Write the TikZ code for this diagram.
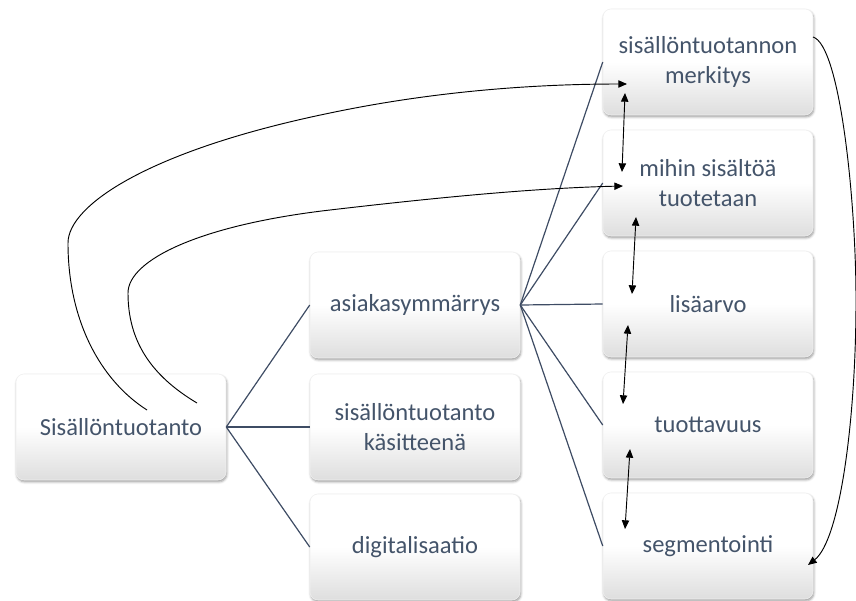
\documentclass[tikz,border=0pt]{standalone}
\usepackage{fontspec}
\setmainfont{Carlito}
\usetikzlibrary{arrows.meta,shadows.blur}
\definecolor{tekstisini}{RGB}{68,84,106}
\definecolor{viivasini}{RGB}{62,76,100}

\tikzset{
  laatikko/.style={rounded corners=6pt, draw=black!6, line width=0.4pt,
    top color=white, bottom color=black!13, middle color=white,
    blur shadow={shadow xshift=0.6pt, shadow yshift=-1.4pt, shadow blur radius=1.8pt, shadow opacity=40},
    minimum width=157.5pt, minimum height=79.5pt, inner sep=0pt,
    text=tekstisini, align=center, font=\fontsize{18.4}{22.5}\selectfont},
  yhteys/.style={draw=viivasini, line width=0.9pt},
  nuoli/.style={draw=black, line width=0.7pt, -{Triangle[length=6.5pt,width=5.5pt]}},
  kaksoisnuoli/.style={draw=black, line width=0.7pt, {Triangle[length=6.5pt,width=5.5pt]}-{Triangle[length=6.5pt,width=5.5pt]}}
}

\begin{document}
\begin{tikzpicture}[x=0.75pt, y=-0.75pt]
		\useasboundingbox (0,0) rectangle (856,600);
		
		% Laatikko vasemmalla
		\node[laatikko] (sisalto) at (121,427) {Sisällöntuotanto};
		
		% Keskimmäinen sarake
		\node[laatikko] (asiakas) at (415,305) {asiakasymmärrys};
		\node[laatikko] (kasite) at (415,427) {sisällöntuotanto\\käsitteenä};
		\node[laatikko] (digi) at (415,547) {digitalisaatio};
		
		% Oikea sarake
		\node[laatikko] (merkitys) at (708,62) {sisällöntuotannon\\merkitys};
		\node[laatikko] (mihin) at (708,183) {mihin sisältöä\\tuotetaan};
		\node[laatikko] (lisaarvo) at (708,304) {lisäarvo};
		\node[laatikko] (tuottavuus) at (708,425) {tuottavuus};
		\node[laatikko] (segmentointi) at (708,546) {segmentointi};
		
		% Yhteydet vasemmalta keskelle
		\draw[yhteys] (sisalto.east) -- (asiakas.west);
		\draw[yhteys] (sisalto.east) -- (kasite.west);
		\draw[yhteys] (sisalto.east) -- (digi.west);
		
		% Yhteydet keskeltä oikealle
		\draw[yhteys] (asiakas.east) -- (merkitys.west);
		\draw[yhteys] (asiakas.east) -- (mihin.west);
		\draw[yhteys] (asiakas.east) -- (lisaarvo.west);
		\draw[yhteys] (asiakas.east) -- (tuottavuus.west);
		\draw[yhteys] (asiakas.east) -- (segmentointi.west);
		
		% Nuolten päät
		\coordinate (k1a) at (622,172); \coordinate (k1b) at (625,93);
		\coordinate (k2a) at (632,294); \coordinate (k2b) at (636,217);
		\coordinate (k3a) at (623,404); \coordinate (k3b) at (628,325);
		\coordinate (k4a) at (625,529); \coordinate (k4b) at (630,449);
		\coordinate (c1s) at (147,410); \coordinate (c1e) at (627,84);
		\coordinate (c2s) at (197,403); \coordinate (c2e) at (623,186);
		\coordinate (c3s) at (813,37);  \coordinate (c3e) at (808,565);
		
		% Kaksisuuntaiset nuolet
		\draw[kaksoisnuoli] (k1a) -- (k1b);
		\draw[kaksoisnuoli] (k2a) -- (k2b);
		\draw[kaksoisnuoli] (k3a) -- (k3b);
		\draw[kaksoisnuoli] (k4a) -- (k4b);
		
		% Kaaret
		\draw[nuoli] (c1s) .. controls (100,380) and (68,320) .. (68,243)
			.. controls (68,205) and (150,150) .. (330,113)
			.. controls (430,92) and (530,84) .. (c1e);
		\draw[nuoli] (c2s) .. controls (150,375) and (128,340) .. (128,293)
			.. controls (128,260) and (200,225) .. (330,210)
			.. controls (450,196) and (540,188) .. (c2e);
		\draw[nuoli] (c3s) .. controls (840,45) and (856,200) .. (856,300)
			.. controls (856,420) and (840,540) .. (c3e);
	\end{tikzpicture}
\end{document}
